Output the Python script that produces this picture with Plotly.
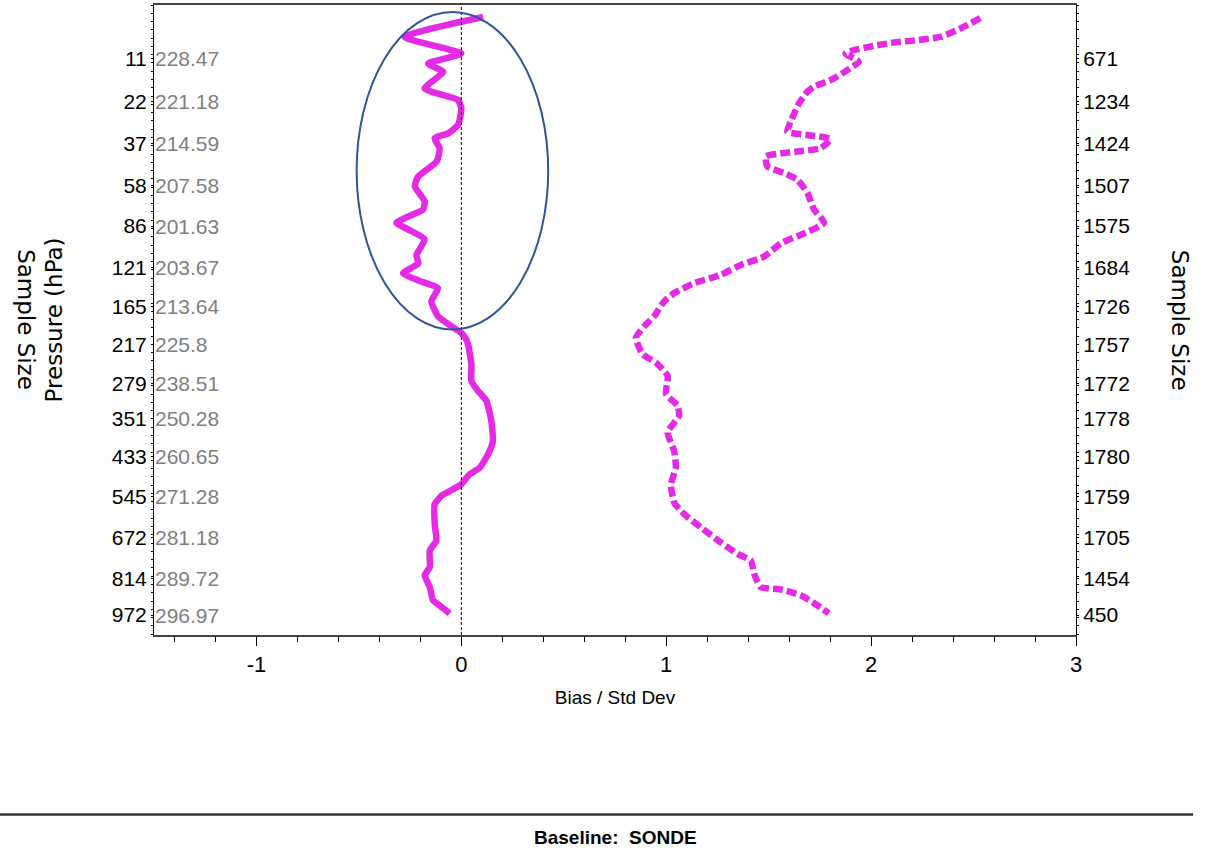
import plotly.graph_objects as go

# ---- tick labels (left: pressure / grey mean values, right: sample size) ----
label_levels = [6.5, 11.7, 16.7, 21.8, 26.7, 31.7, 36.4, 41.0, 45.7, 50.0, 54.5, 59.4, 64.3, 69.3, 73.7]
pressure_labels = ["11", "22", "37", "58", "86", "121", "165", "217", "279", "351", "433", "545", "672", "814", "972"]
mean_labels = ["228.47", "221.18", "214.59", "207.58", "201.63", "203.67", "213.64", "225.8",
               "238.51", "250.28", "260.65", "271.28", "281.18", "289.72", "296.97"]
sample_labels = ["671", "1234", "1424", "1507", "1575", "1684", "1726", "1757", "1772",
                 "1778", "1780", "1759", "1705", "1454", "450"]

# ---- Bias profile (solid) ----
bias_level = [1.45, 3.86, 5.87, 7.07, 8.07, 10.08, 11.48, 12.49, 14.49, 15.5, 16.1, 17.3, 18.9, 20.7,
              21.9, 23.7, 24.7, 26.3, 27.1, 28.3, 30.2, 31.2, 32.4, 33.4, 34.2, 35.8, 37.6, 38.8,
              39.6, 40.4, 41.0, 43.4, 45.4, 46.6, 47.8, 50.2, 52.7, 54.3, 55.9, 56.7, 57.9, 58.5,
              59.3, 60.3, 62.7, 64.7, 65.9, 67.9, 68.9, 70.3, 71.9, 72.7, 73.5]
bias_value = [0.106, -0.276, 0.0, -0.162, -0.089, -0.179, -0.016, 0.0, -0.016, -0.065, -0.13, -0.106,
              -0.12, -0.21, -0.227, -0.179, -0.187, -0.317, -0.26, -0.179, -0.219, -0.21, -0.284,
              -0.195, -0.114, -0.146, -0.114, -0.049, 0.0, 0.024, 0.033, 0.049, 0.049, 0.081, 0.122,
              0.146, 0.154, 0.13, 0.089, 0.04, 0.0, -0.04, -0.097, -0.13, -0.13, -0.122, -0.154,
              -0.154, -0.179, -0.154, -0.138, -0.097, -0.057]

# ---- Std Dev profile (dashed) ----
std_level = [1.57, 2.86, 3.86, 4.25, 4.54, 4.94, 5.46, 5.87, 6.87, 7.87, 8.88, 9.88, 10.48, 11.89,
             14.1, 15.3, 15.7, 16.2, 17.3, 17.7, 18.3, 19.5, 20.3, 21.1, 22.7, 24.7, 26.3, 27.6,
             28.8, 30.4, 31.4, 32.6, 33.6, 34.8, 35.8, 37.6, 38.8, 40.2, 42.2, 43.2, 44.8, 47.0,
             48.4, 49.6, 51.6, 53.9, 55.9, 57.9, 60.1, 61.5, 63.1, 64.9, 66.3, 67.1, 68.7, 70.3,
             70.6, 71.3, 72.5, 73.5]
std_value = [2.533, 2.435, 2.338, 2.224, 2.11, 2.013, 1.916, 1.875, 1.94, 1.883, 1.818, 1.721, 1.689,
             1.648, 1.607, 1.591, 1.689, 1.802, 1.753, 1.64, 1.486, 1.494, 1.575, 1.64, 1.689, 1.721,
             1.77, 1.672, 1.559, 1.477, 1.364, 1.266, 1.136, 1.039, 0.99, 0.941, 0.893, 0.852, 0.885,
             0.95, 1.007, 0.999, 1.055, 1.063, 1.007, 1.039, 1.047, 1.023, 1.039, 1.088, 1.169, 1.266,
             1.348, 1.413, 1.429, 1.461, 1.559, 1.656, 1.737, 1.794]

# ---- layout constants ----
Y_RANGE = [76.1, 0]
X_RANGE = [-1.5, 3]
HIGHLIGHT = dict(x0=-0.511, x1=0.424, y0=0.84, y1=39.2)
MAGENTA = "#E52AE5"
NARROW = "Liberation Sans, Arial, sans-serif"
WIDE = "DejaVu Sans, Verdana, sans-serif"


def nfont(size, color="black", weight="normal"):
    return dict(family=NARROW, size=size, color=color, weight=weight)


fig = go.Figure()
fig.add_trace(go.Scatter(x=bias_value, y=bias_level, mode="lines",
                         line=dict(color=MAGENTA, width=6.5, shape="spline", smoothing=0.5),
                         name="Bias", showlegend=False, yaxis="y"))
fig.add_trace(go.Scatter(x=std_value, y=std_level, mode="lines",
                         line=dict(color=MAGENTA, width=6.5, dash="10px,4px", shape="spline", smoothing=0.5),
                         name="Std Dev", showlegend=False, yaxis="y2"))

# grey mean labels just inside the left axis
for lv, txt in zip(label_levels, mean_labels):
    fig.add_annotation(x=0, xref="paper", y=lv, yref="y", text=txt, showarrow=False,
                       xanchor="left", yanchor="middle", xshift=-1,
                       font=nfont(21, "#7f7f7f"))

# zero line
fig.add_shape(type="line", xref="x", yref="paper", x0=0, x1=0, y0=0, y1=1,
              line=dict(color="black", width=1, dash="3px,2px"))
# highlight ellipse
fig.add_shape(type="circle", xref="x", yref="y", line=dict(color="#2F5597", width=2),
              **HIGHLIGHT)
# bottom separator line
fig.add_shape(type="line", xref="paper", yref="paper", x0=-0.167, x1=1.127, y0=-0.285, y1=-0.285,
              line=dict(color="#333333", width=2.5))

# axis titles
fig.add_annotation(x=-0.139, xref="paper", y=0.5, yref="paper", text="Sample Size", textangle=90,
                   xanchor="center", yanchor="middle",
                   showarrow=False, font=dict(family=WIDE, size=23, color="black"))
fig.add_annotation(x=-0.108, xref="paper", y=0.5, yref="paper", text="Pressure (hPa)", textangle=-90,
                   xanchor="center", yanchor="middle",
                   showarrow=False, font=dict(family=WIDE, size=23, color="black"))
fig.add_annotation(x=1.113, xref="paper", y=0.5, yref="paper", text="Sample Size", textangle=90,
                   xanchor="center", yanchor="middle",
                   showarrow=False, font=dict(family=WIDE, size=23, color="black"))
fig.add_annotation(x=0.5, xref="paper", y=-0.321, yref="paper", text="<b>Baseline:  SONDE</b>",
                   xanchor="center", yanchor="middle",
                   showarrow=False, font=nfont(19, "black", "bold"))

fig.update_layout(
    width=1210, height=856,
    margin=dict(l=154, r=134, t=3, b=221),
    paper_bgcolor="white", plot_bgcolor="white",
    showlegend=False,
    xaxis=dict(range=X_RANGE, tickvals=[-1, 0, 1, 2, 3], ticktext=["-1", "0", "1", "2", "3"],
               ticks="outside", ticklen=9, tickcolor="black", tickwidth=1,
               minor=dict(dtick=0.2, tick0=0, ticks="outside", ticklen=5, tickcolor="black"),
               showline=True, linecolor="#444444", linewidth=2, mirror=True,
               showgrid=False, zeroline=False,
               tickfont=nfont(22),
               title=dict(text="Bias / Std Dev", standoff=14, font=nfont(19))),
    yaxis=dict(range=Y_RANGE, tickvals=label_levels, ticktext=pressure_labels,
               ticks="outside", ticklen=2, tickcolor="black",
               minor=dict(dtick=1, tick0=0, ticks="outside", ticklen=2, tickcolor="black"),
               showline=True, linecolor="black", linewidth=1,
               showgrid=False, zeroline=False,
               tickfont=nfont(21)),
    yaxis2=dict(range=Y_RANGE, overlaying="y", side="right", tickvals=label_levels,
                ticktext=sample_labels, ticks="outside", ticklen=2, tickcolor="black",
                minor=dict(dtick=1, tick0=0, ticks="outside", ticklen=2, tickcolor="black"),
                showline=True, linecolor="black", linewidth=1,
                showgrid=False, zeroline=False,
                tickfont=nfont(21)),
)

fig.write_html("out.html")
